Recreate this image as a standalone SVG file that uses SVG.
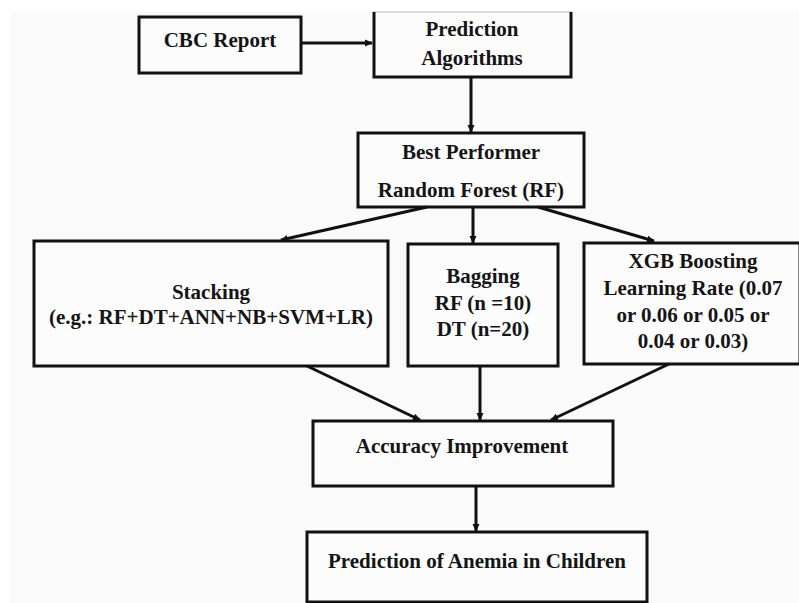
<svg xmlns="http://www.w3.org/2000/svg" width="799" height="603" viewBox="0 0 799 603">
<style>
.box{fill:#fcfcfc;stroke:#111;stroke-width:3}
.t{font-family:"Liberation Serif","Times New Roman",serif;font-weight:bold;font-size:21px;fill:#151515;text-anchor:middle}
.c{stroke:#111;stroke-width:3;fill:none;marker-end:url(#ah)}
</style>
<defs>
<marker id="ah" markerWidth="8" markerHeight="8" refX="7" refY="4" orient="auto" markerUnits="userSpaceOnUse">
<path d="M0,0.5 L8,4 L0,7.5 Z" fill="#111"/>
</marker>
</defs>
<rect x="0" y="0" width="799" height="603" fill="#ffffff"/>
<rect x="10" y="11" width="789" height="592" fill="#fafafa"/>
<g id="cbc">
<rect class="box" x="139" y="17" width="162" height="56"/>
<text class="t" x="220" y="47">CBC Report</text>
</g>
<g id="pred-alg">
<rect x="373" y="12" width="199" height="65" fill="#fcfcfc"/>
<line x1="373" y1="12" x2="572" y2="12" stroke="#bbb" stroke-width="1"/>
<path d="M374,12 V77 H571 V12" fill="none" stroke="#111" stroke-width="3"/>
<text class="t" x="472" y="36">Prediction</text>
<text class="t" x="472" y="65">Algorithms</text>
</g>
<g id="best">
<rect class="box" x="358" y="133" width="226" height="74"/>
<text class="t" x="471" y="159">Best Performer</text>
<text class="t" x="471" y="197">Random Forest (RF)</text>
</g>
<g id="stacking">
<rect class="box" x="34" y="241" width="354" height="125"/>
<text class="t" x="211" y="299">Stacking</text>
<text class="t" x="211" y="324">(e.g.: RF+DT+ANN+NB+SVM+LR)</text>
</g>
<g id="bagging">
<rect class="box" x="408" y="244" width="150" height="122"/>
<text class="t" x="483" y="283">Bagging</text>
<text class="t" x="483" y="310">RF (n =10)</text>
<text class="t" x="483" y="336">DT (n=20)</text>
</g>
<g id="xgb">
<rect class="box" x="584" y="243" width="216" height="121"/>
<text class="t" x="693" y="268">XGB Boosting</text>
<text class="t" x="693" y="295">Learning Rate (0.07</text>
<text class="t" x="693" y="322">or 0.06 or 0.05 or</text>
<text class="t" x="693" y="348">0.04 or 0.03)</text>
</g>
<g id="accuracy">
<rect class="box" x="313" y="421" width="300" height="65"/>
<text class="t" x="462" y="453">Accuracy Improvement</text>
</g>
<g id="anemia">
<rect class="box" x="307" y="532" width="340" height="70"/>
<text class="t" x="477" y="568">Prediction of Anemia in Children</text>
</g>
<g id="connectors">
<line class="c" x1="301" y1="43" x2="372" y2="43"/>
<line class="c" x1="471" y1="77" x2="471" y2="132"/>
<line class="c" x1="427" y1="207" x2="281" y2="240"/>
<line class="c" x1="473" y1="207" x2="473" y2="243"/>
<line class="c" x1="538" y1="207" x2="654" y2="241"/>
<line class="c" x1="307" y1="366" x2="420" y2="420"/>
<line class="c" x1="480" y1="366" x2="480" y2="420"/>
<line class="c" x1="669" y1="364" x2="551" y2="420"/>
<line class="c" x1="476" y1="486" x2="476" y2="531"/>
</g>
</svg>
